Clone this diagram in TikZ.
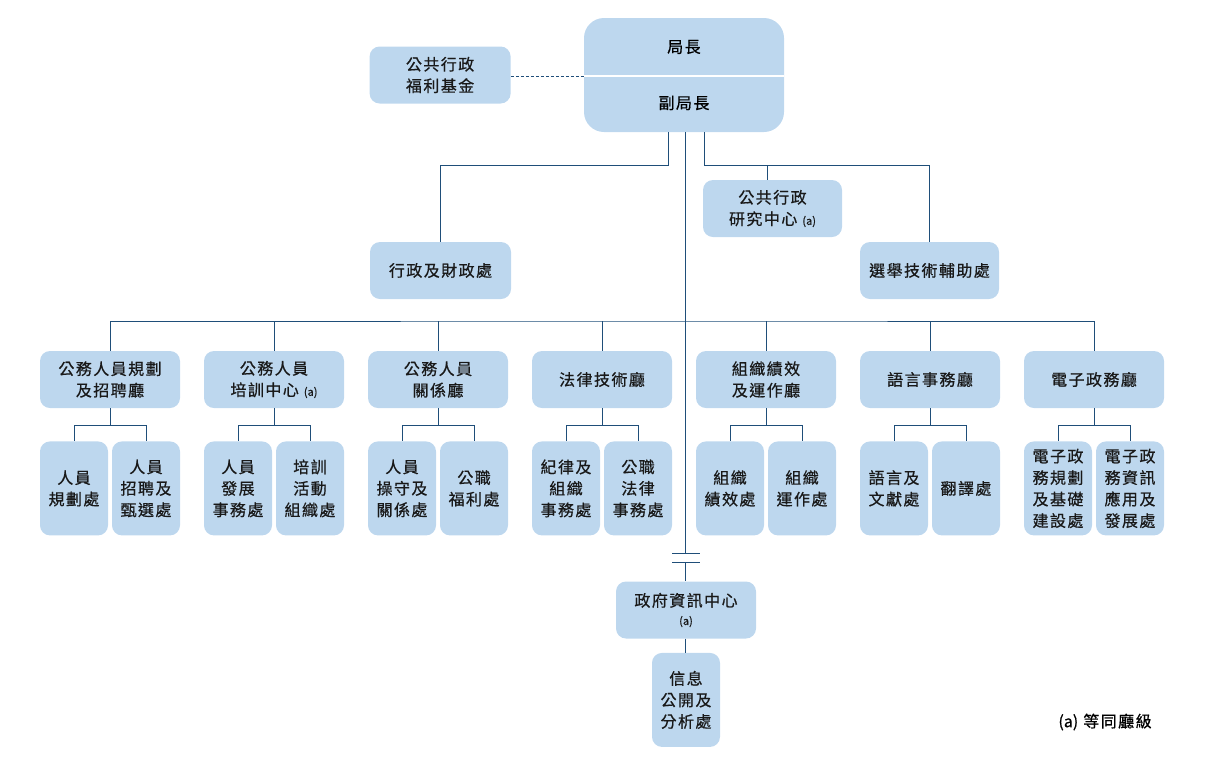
\documentclass[tikz,border=0pt]{standalone}
\usepackage{fontspec}
\setmainfont{Noto Sans CJK TC}[LetterSpace=9, FakeBold=0.6]
\usepackage{tikz}
\usetikzlibrary{positioning}
\definecolor{boxfill}{RGB}{189, 215, 238}
\definecolor{linkblue}{RGB}{31, 78, 121}
\newcommand{\eqmark}{{\addfontfeature{LetterSpace=0}\fontsize{11}{13}\selectfont (a)}}

\begin{document}
\begin{tikzpicture}[x=1pt, y=-1pt,
    font=\fontsize{16}{21.5}\selectfont,
    orgbox/.style={fill=boxfill, rounded corners=10pt, align=center, inner sep=0pt, text=black!90},
    hallbox/.style={orgbox, minimum width=140pt, minimum height=57pt},
    unitbox/.style={orgbox, minimum width=68pt, minimum height=94pt},
    orgline/.style={draw=linkblue, line width=0.9pt}
]
    \useasboundingbox (0,0) rectangle (1210,756);

    % Nodos
    \node (boss) [orgbox, rounded corners=20pt, minimum width=200pt, minimum height=114pt] at (684,75) {};
    \node (chief) at (684,47) {局長};
    \node (deputy) at (684,103) {副局長};
    \node (fund) [hallbox, minimum width=141pt, left=73pt of boss] {公共行政\\福利基金};

    \node (admin) [hallbox, minimum width=141pt] at (440.5,270.5) {行政及財政處};
    \node (research) [hallbox, minimum width=139pt] at (772.5,208.5) {公共行政\\研究中心 \eqmark};
    \node (elect) [hallbox, minimum width=139pt] at (929.5,270.5) {選舉技術輔助處};

    \node (hall1) [hallbox] at (110,379.5) {公務人員規劃\\及招聘廳};
    \node (hall2) [hallbox] at (274,379.5) {公務人員\\培訓中心 \eqmark};
    \node (hall3) [hallbox] at (438,379.5) {公務人員\\關係廳};
    \node (hall4) [hallbox] at (602,379.5) {法律技術廳};
    \node (hall5) [hallbox] at (766,379.5) {組織績效\\及運作廳};
    \node (hall6) [hallbox] at (930,379.5) {語言事務廳};
    \node (hall7) [hallbox] at (1094,379.5) {電子政務廳};

    \node (u1a) [unitbox, below right=33pt and 0pt of hall1.south west] {人員\\規劃處};
    \node (u1b) [unitbox, below left=33pt and 0pt of hall1.south east] {人員\\招聘及\\甄選處};
    \node (u2a) [unitbox, below right=33pt and 0pt of hall2.south west] {人員\\發展\\事務處};
    \node (u2b) [unitbox, below left=33pt and 0pt of hall2.south east] {培訓\\活動\\組織處};
    \node (u3a) [unitbox, below right=33pt and 0pt of hall3.south west] {人員\\操守及\\關係處};
    \node (u3b) [unitbox, below left=33pt and 0pt of hall3.south east] {公職\\福利處};
    \node (u4a) [unitbox, below right=33pt and 0pt of hall4.south west] {紀律及\\組織\\事務處};
    \node (u4b) [unitbox, below left=33pt and 0pt of hall4.south east] {公職\\法律\\事務處};
    \node (u5a) [unitbox, below right=33pt and 0pt of hall5.south west] {組織\\績效處};
    \node (u5b) [unitbox, below left=33pt and 0pt of hall5.south east] {組織\\運作處};
    \node (u6a) [unitbox, below right=33pt and 0pt of hall6.south west] {語言及\\文獻處};
    \node (u6b) [unitbox, below left=33pt and 0pt of hall6.south east] {翻譯處};
    \node (u7a) [unitbox, below right=33pt and 0pt of hall7.south west] {電子政\\務規劃\\及基礎\\建設處};
    \node (u7b) [unitbox, below left=33pt and 0pt of hall7.south east] {電子政\\務資訊\\應用及\\發展處};

    \node (govinfo) [hallbox] at (686,610) {政府資訊中心\\[-3pt]\eqmark};
    \node (infopub) [unitbox, below=14pt of govinfo] {信息\\公開及\\分析處};

    \node (note) at (1105,722) {{\addfontfeature{LetterSpace=0}(a)} 等同廳級};

    % Líneas
    \coordinate (sep) at (684,76);
    \coordinate (forkL) at (668,165);
    \coordinate (forkR) at (704,165);
    \coordinate (forkM) at (767,165);
    \coordinate (trunk) at (685,321);
    \coordinate (cutA) at (685,553);
    \coordinate (cutB) at (685,562);

    \draw [white, line width=1.5pt] (boss.west |- sep) -- (boss.east |- sep);
    \draw [orgline, line width=0.8pt, dash pattern=on 3pt off 2pt] (fund.east |- sep) -- (boss.west |- sep);
    \draw [orgline] (boss.south -| forkL) -- (forkL) -| (admin.north);
    \draw [orgline] (boss.south -| forkR) -- (forkR) -| (elect.north);
    \draw [orgline] (forkM) -- (research.north -| forkM);
    \draw [orgline] (boss.south -| cutA) -- (cutA);
    \draw [orgline] ([xshift=-13pt]cutA) -- ([xshift=15pt]cutA);
    \draw [orgline] ([xshift=-13pt]cutB) -- ([xshift=15pt]cutB);
    \draw [orgline] (cutB) -- (govinfo.north -| cutB);
    \draw [orgline] (govinfo.south -| cutB) -- (infopub.north -| cutB);

    \draw [orgline] (hall1.north) |- (trunk) -| (hall7.north);
    \draw [orgline] (hall2.north) -- (hall2.north |- trunk);
    \draw [orgline] (hall3.north) -- (hall3.north |- trunk);
    \draw [orgline] (hall4.north) -- (hall4.north |- trunk);
    \draw [orgline] (hall5.north) -- (hall5.north |- trunk);
    \draw [orgline] (hall6.north) -- (hall6.north |- trunk);

    \draw [orgline] (hall1.south) -- ++(0,17) -| (u1a.north) (hall1.south) ++(0,17) -| (u1b.north);
    \draw [orgline] (hall2.south) -- ++(0,17) -| (u2a.north) (hall2.south) ++(0,17) -| (u2b.north);
    \draw [orgline] (hall3.south) -- ++(0,17) -| (u3a.north) (hall3.south) ++(0,17) -| (u3b.north);
    \draw [orgline] (hall4.south) -- ++(0,17) -| (u4a.north) (hall4.south) ++(0,17) -| (u4b.north);
    \draw [orgline] (hall5.south) -- ++(0,17) -| (u5a.north) (hall5.south) ++(0,17) -| (u5b.north);
    \draw [orgline] (hall6.south) -- ++(0,17) -| (u6a.north) (hall6.south) ++(0,17) -| (u6b.north);
    \draw [orgline] (hall7.south) -- ++(0,17) -| (u7a.north) (hall7.south) ++(0,17) -| (u7b.north);
\end{tikzpicture}
\end{document}
